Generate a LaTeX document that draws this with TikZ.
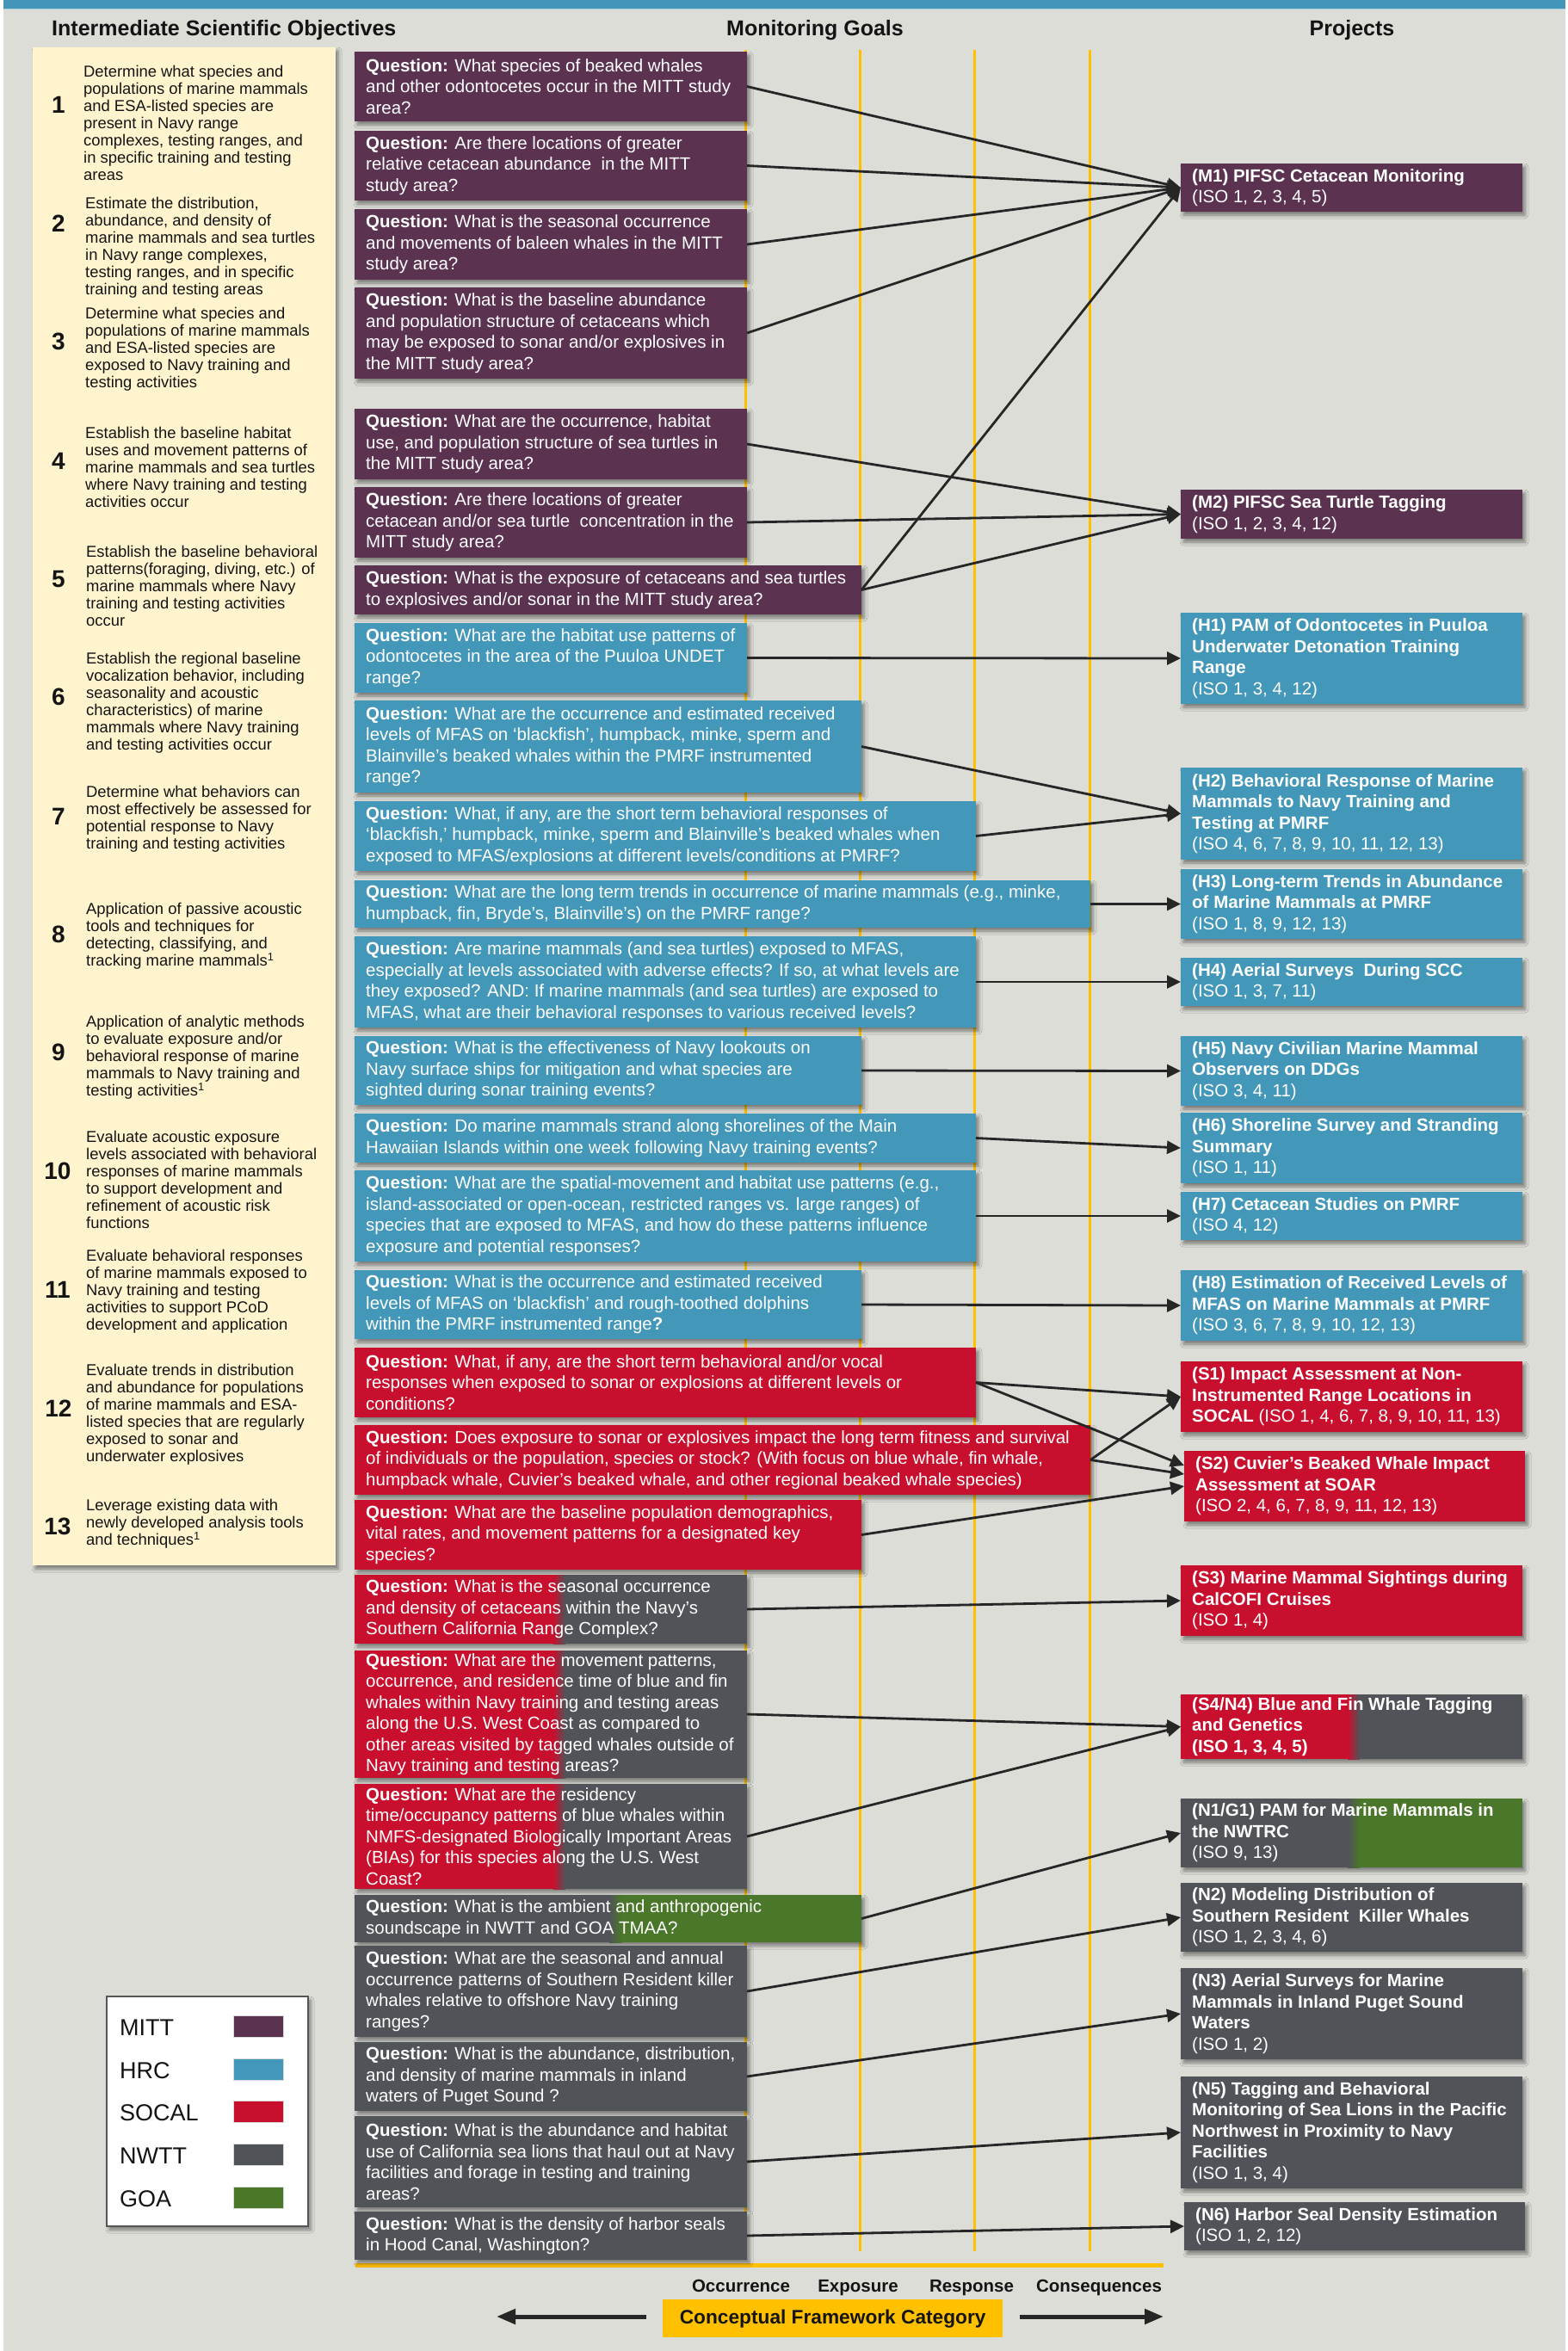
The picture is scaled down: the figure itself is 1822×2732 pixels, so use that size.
\documentclass[tikz,border=0pt]{standalone}
\usepackage{fontspec}
\setmainfont{Liberation Sans}
\usetikzlibrary{arrows.meta,shadows.blur}
\definecolor{bg}{RGB}{220,221,215}
\definecolor{topbar}{RGB}{67,150,184}
\definecolor{mitt}{RGB}{91,51,81}
\definecolor{hrc}{RGB}{67,151,184}
\definecolor{socal}{RGB}{200,16,46}
\definecolor{nwtt}{RGB}{80,84,88}
\definecolor{goa}{RGB}{74,119,41}
\definecolor{cream}{RGB}{255,244,206}
\definecolor{gold}{RGB}{255,192,0}
\definecolor{arrowc}{RGB}{38,38,38}
\definecolor{inkc}{RGB}{20,20,20}
\definecolor{legbd}{RGB}{85,85,85}
\newcommand{\qbx}[7]{%
  \node[boxbase,#2,minimum width={#5-#3},minimum height={#6-#4},anchor=north west] (#1) at (#3,#4) {};
  \node[boxtext,anchor=west] (#1t) at ([xshift=13pt]#1.west) {#7};}
\begin{document}
\begin{tikzpicture}[x=1pt,y=-1pt,
  shadowed/.style={blur shadow={shadow xshift=3pt,shadow yshift=-4pt,shadow blur radius=4pt,shadow opacity=45}},
  boxbase/.style={rectangle,draw=none,inner sep=0pt,outer sep=0pt,shadowed},
  boxtext/.style={inner sep=0pt,text=white,align=left,font=\fontsize{20.5}{24.5}\selectfont},
  isotext/.style={inner sep=0pt,text=inkc,align=left,font=\fontsize{18.4}{20}\selectfont},
  isonum/.style={inner sep=0pt,text=inkc,font=\fontsize{28}{30}\selectfont\bfseries},
  header/.style={inner sep=0pt,text=inkc,font=\fontsize{25}{28}\selectfont\bfseries},
  axislabel/.style={inner sep=0pt,text=inkc,font=\fontsize{20.5}{24}\selectfont\bfseries},
  legtext/.style={inner sep=0pt,text=inkc,font=\fontsize{27}{30}\selectfont},
  swatch/.style={rectangle,inner sep=0pt,minimum width=58,minimum height=25,draw=white!70!gray,line width=0.8pt},
  conn/.style={draw=arrowc,line width=2.8pt,-{Triangle[length=16pt,width=15pt]}},
  bigarrow/.style={draw=arrowc,line width=5pt,-{Triangle[length=22pt,width=17pt]}},
  split/.style n args={3}{fill=#3,path picture={
    \fill[#2] (path picture bounding box.north west) rectangle ([xshift=#1]path picture bounding box.south west);
    \shade[left color=#2,right color=#3] ([xshift=#1]path picture bounding box.north west) rectangle ([xshift=#1+14pt]path picture bounding box.south west);}}
]
\useasboundingbox (0,0) rectangle (1822,2732);
% background
\fill[white] (0,0) rectangle (1822,2732);
\fill[bg] (4,0) rectangle (1819,2732);
\fill[topbar] (4,0) rectangle (1819,10);
\fill[topbar!45!white] (4,10) rectangle (1819,11.5);
% framework lines
\foreach \xx in {866,999,1132,1266} \draw[gold,line width=3pt] (\xx,58) -- (\xx,2616);
\draw[gold,line width=5pt] (413,2632) -- (1352,2632);

% headers
\node[header,anchor=base west] (h-iso) at (60,42) {Intermediate Scientific Objectives};
\node[header,anchor=base] (h-goals) at (947,42) {Monitoring Goals};
\node[header,anchor=base] (h-proj) at (1571,42) {Projects};

% ISO box
\node[boxbase,fill=cream,minimum width=352,minimum height=1764,anchor=north west] (isobox) at (38,55) {};
\node[isonum] (n1) at (68,122) {1};
\node[isotext,anchor=west] (iso1) at (97,143) {Determine what species and\\populations of marine mammals\\and ESA-listed species are\\present in Navy range\\complexes, testing ranges, and\\in specific training and testing\\areas};
\node[isonum] (n2) at (68,260) {2};
\node[isotext,anchor=west] (iso2) at (99,287.5) {Estimate the distribution,\\abundance, and density of\\marine mammals and sea turtles\\in Navy range complexes,\\testing ranges, and in specific\\training and testing areas};
\node[isonum] (n3) at (68,397) {3};
\node[isotext,anchor=west] (iso3) at (99,406) {Determine what species and\\populations of marine mammals\\and ESA-listed species are\\exposed to Navy training and\\testing activities};
\node[isonum] (n4) at (68,536) {4};
\node[isotext,anchor=west] (iso4) at (99,543) {Establish the baseline habitat\\uses and movement patterns of\\marine mammals and sea turtles\\where Navy training and testing\\activities occur};
\node[isonum] (n5) at (68,673) {5};
\node[isotext,anchor=west] (iso5) at (100,681) {Establish the baseline behavioral\\patterns(foraging, diving, etc.) of\\marine mammals where Navy\\training and testing activities\\occur};
\node[isonum] (n6) at (68,810) {6};
\node[isotext,anchor=west] (iso6) at (100,817) {Establish the regional baseline\\vocalization behavior, including\\seasonality and acoustic\\characteristics) of marine\\mammals where Navy training\\and testing activities occur};
\node[isonum] (n7) at (68,949) {7};
\node[isotext,anchor=west] (iso7) at (100,951.5) {Determine what behaviors can\\most effectively be assessed for\\potential response to Navy\\training and testing activities};
\node[isonum] (n8) at (68,1086) {8};
\node[isotext,anchor=west] (iso8) at (100,1088) {Application of passive acoustic\\tools and techniques for\\detecting, classifying, and\\tracking marine mammals\textsuperscript{1}};
\node[isonum] (n9) at (68,1223) {9};
\node[isotext,anchor=west] (iso9) at (100,1228.5) {Application of analytic methods\\to evaluate exposure and/or\\behavioral response of marine\\mammals to Navy training and\\testing activities\textsuperscript{1}};
\node[isonum] (n10) at (67,1361) {10};
\node[isotext,anchor=west] (iso10) at (100,1371) {Evaluate acoustic exposure\\levels associated with behavioral\\responses of marine mammals\\to support development and\\refinement of acoustic risk\\functions};
\node[isonum] (n11) at (67,1499) {11};
\node[isotext,anchor=west] (iso11) at (100,1500.5) {Evaluate behavioral responses\\of marine mammals exposed to\\Navy training and testing\\activities to support PCoD\\development and application};
\node[isonum] (n12) at (68,1637) {12};
\node[isotext,anchor=west] (iso12) at (100,1644) {Evaluate trends in distribution\\and abundance for populations\\of marine mammals and ESA-\\listed species that are regularly\\exposed to sonar and\\underwater explosives};
\node[isonum] (n13) at (67,1774) {13};
\node[isotext,anchor=west] (iso13) at (100,1771) {Leverage existing data with\\newly developed analysis tools\\and techniques\textsuperscript{1}};

% question boxes: MITT
\qbx{q1}{fill=mitt}{412}{60}{868}{141}{\textbf{Question:} What species of beaked whales\\and other odontocetes occur in the MITT study\\area?}
\qbx{q2}{fill=mitt}{412}{152}{868}{233}{\textbf{Question:} Are there locations of greater\\relative cetacean abundance\ \ in the MITT\\study area?}
\qbx{q3}{fill=mitt}{412}{243}{868}{325}{\textbf{Question:} What is the seasonal occurrence\\and movements of baleen whales in the MITT\\study area?}
\qbx{q4}{fill=mitt}{412}{334}{868}{440}{\textbf{Question:} What is the baseline abundance\\and population structure of cetaceans which\\may be exposed to sonar and/or explosives in\\the MITT study area?}
\qbx{q5}{fill=mitt}{412}{475}{868}{557}{\textbf{Question:} What are the occurrence, habitat\\use, and population structure of sea turtles in\\the MITT study area?}
\qbx{q6}{fill=mitt}{412}{566}{868}{648}{\textbf{Question:} Are there locations of greater\\cetacean and/or sea turtle\ \ concentration in the\\MITT study area?}
\qbx{q7}{fill=mitt}{412}{657}{1001}{714}{\textbf{Question:} What is the exposure of cetaceans and sea turtles\\to explosives and/or sonar in the MITT study area?}
% HRC
\qbx{q8}{fill=hrc}{412}{724}{868}{805}{\textbf{Question:} What are the habitat use patterns of\\odontocetes in the area of the Puuloa UNDET\\range?}
\qbx{q9}{fill=hrc}{412}{814}{1001}{921}{\textbf{Question:} What are the occurrence and estimated received\\levels of MFAS on ‘blackfish’, humpback, minke, sperm and\\Blainville’s beaked whales within the PMRF instrumented\\range?}
\qbx{q10}{fill=hrc}{412}{931}{1134}{1012}{\textbf{Question:} What, if any, are the short term behavioral responses of\\‘blackfish,’ humpback, minke, sperm and Blainville’s beaked whales when\\exposed to MFAS/explosions at different levels/conditions at PMRF?}
\qbx{q11}{fill=hrc}{412}{1023}{1267}{1078}{\textbf{Question:} What are the long term trends in occurrence of marine mammals (e.g., minke,\\humpback, fin, Bryde’s, Blainville’s) on the PMRF range?}
\qbx{q12}{fill=hrc}{412}{1088}{1134}{1194}{\textbf{Question:} Are marine mammals (and sea turtles) exposed to MFAS,\\especially at levels associated with adverse effects? If so, at what levels are\\they exposed? AND: If marine mammals (and sea turtles) are exposed to\\MFAS, what are their behavioral responses to various received levels?}
\qbx{q13}{fill=hrc}{412}{1204}{1001}{1284}{\textbf{Question:} What is the effectiveness of Navy lookouts on\\Navy surface ships for mitigation and what species are\\sighted during sonar training events?}
\qbx{q14}{fill=hrc}{412}{1294}{1134}{1351}{\textbf{Question:} Do marine mammals strand along shorelines of the Main\\Hawaiian Islands within one week following Navy training events?}
\qbx{q15}{fill=hrc}{412}{1360}{1134}{1466}{\textbf{Question:} What are the spatial-movement and habitat use patterns (e.g.,\\island-associated or open-ocean, restricted ranges vs. large ranges) of\\species that are exposed to MFAS, and how do these patterns influence\\exposure and potential responses?}
\qbx{q16}{fill=hrc}{412}{1476}{1001}{1556}{\textbf{Question:} What is the occurrence and estimated received\\levels of MFAS on ‘blackfish’ and rough-toothed dolphins\\within the PMRF instrumented range\textbf{?}}
% SOCAL
\qbx{q17}{fill=socal}{412}{1566}{1134}{1647}{\textbf{Question:} What, if any, are the short term behavioral and/or vocal\\responses when exposed to sonar or explosions at different levels or\\conditions?}
\qbx{q18}{fill=socal}{412}{1656}{1267}{1737}{\textbf{Question:} Does exposure to sonar or explosives impact the long term fitness and survival\\of individuals or the population, species or stock? (With focus on blue whale, fin whale,\\humpback whale, Cuvier’s beaked whale, and other regional beaked whale species)}
\qbx{q19}{fill=socal}{412}{1743}{1001}{1824}{\textbf{Question:} What are the baseline population demographics,\\vital rates, and movement patterns for a designated key\\species?}
\qbx{q20}{split={231pt}{socal}{nwtt}}{412}{1830}{868}{1910}{\textbf{Question:} What is the seasonal occurrence\\and density of cetaceans within the Navy’s\\Southern California Range Complex?}
\qbx{q21}{split={231pt}{socal}{nwtt}}{412}{1918}{868}{2066}{\textbf{Question:} What are the movement patterns,\\occurrence, and residence time of blue and fin\\whales within Navy training and testing areas\\along the U.S. West Coast as compared to\\other areas visited by tagged whales outside of\\Navy training and testing areas?}
\qbx{q22}{split={231pt}{socal}{nwtt}}{412}{2073}{868}{2195}{\textbf{Question:} What are the residency\\time/occupancy patterns of blue whales within\\NMFS-designated Biologically Important Areas\\(BIAs) for this species along the U.S. West\\Coast?}
% NWTT / GOA
\qbx{q23}{split={296pt}{nwtt}{goa}}{412}{2202}{1001}{2257}{\textbf{Question:} What is the ambient and anthropogenic\\soundscape in NWTT and GOA TMAA?}
\qbx{q24}{fill=nwtt}{412}{2261}{868}{2367}{\textbf{Question:} What are the seasonal and annual\\occurrence patterns of Southern Resident killer\\whales relative to offshore Navy training\\ranges?}
\qbx{q25}{fill=nwtt}{412}{2373}{868}{2453}{\textbf{Question:} What is the abundance, distribution,\\and density of marine mammals in inland\\waters of Puget Sound ?}
\qbx{q26}{fill=nwtt}{412}{2459}{868}{2565}{\textbf{Question:} What is the abundance and habitat\\use of California sea lions that haul out at Navy\\facilities and forage in testing and training\\areas?}
\qbx{q27}{fill=nwtt}{412}{2570}{868}{2626}{\textbf{Question:} What is the density of harbor seals\\in Hood Canal, Washington?}

% project boxes
\qbx{m1}{fill=mitt}{1372}{190}{1769}{246}{\textbf{(M1) PIFSC Cetacean Monitoring}\\(ISO 1, 2, 3, 4, 5)}
\qbx{m2}{fill=mitt}{1372}{569}{1769}{626}{\textbf{(M2) PIFSC Sea Turtle Tagging}\\(ISO 1, 2, 3, 4, 12)}
\qbx{h1}{fill=hrc}{1372}{712}{1769}{818}{\textbf{(H1) PAM of Odontocetes in Puuloa}\\\textbf{Underwater Detonation Training}\\\textbf{Range}\\(ISO 1, 3, 4, 12)}
\qbx{h2}{fill=hrc}{1372}{892}{1769}{999}{\textbf{(H2) Behavioral Response of Marine}\\\textbf{Mammals to Navy Training and}\\\textbf{Testing at PMRF}\\(ISO 4, 6, 7, 8, 9, 10, 11, 12, 13)}
\qbx{h3}{fill=hrc}{1372}{1010}{1769}{1091}{\textbf{(H3) Long-term Trends in Abundance}\\\textbf{of Marine Mammals at PMRF}\\(ISO 1, 8, 9, 12, 13)}
\qbx{h4}{fill=hrc}{1372}{1113}{1769}{1169}{\textbf{(H4) Aerial Surveys\ \ During SCC}\\(ISO 1, 3, 7, 11)}
\qbx{h5}{fill=hrc}{1372}{1204}{1769}{1285}{\textbf{(H5) Navy Civilian Marine Mammal}\\\textbf{Observers on DDGs}\\(ISO 3, 4, 11)}
\qbx{h6}{fill=hrc}{1372}{1293}{1769}{1375}{\textbf{(H6) Shoreline Survey and Stranding}\\\textbf{Summary}\\(ISO 1, 11)}
\qbx{h7}{fill=hrc}{1372}{1385}{1769}{1441}{\textbf{(H7) Cetacean Studies on PMRF}\\(ISO 4, 12)}
\qbx{h8}{fill=hrc}{1372}{1476}{1769}{1558}{\textbf{(H8) Estimation of Received Levels of}\\\textbf{MFAS on Marine Mammals at PMRF}\\(ISO 3, 6, 7, 8, 9, 10, 12, 13)}
\qbx{s1}{fill=socal}{1372}{1582}{1769}{1664}{\textbf{(S1) Impact Assessment at Non-}\\\textbf{Instrumented Range Locations in}\\\textbf{SOCAL} (ISO 1, 4, 6, 7, 8, 9, 10, 11, 13)}
\qbx{s2}{fill=socal}{1376}{1686}{1772}{1768}{\textbf{(S2) Cuvier’s Beaked Whale Impact}\\\textbf{Assessment at SOAR}\\(ISO 2, 4, 6, 7, 8, 9, 11, 12, 13)}
\qbx{s3}{fill=socal}{1372}{1819}{1769}{1901}{\textbf{(S3) Marine Mammal Sightings during}\\\textbf{CalCOFI Cruises}\\(ISO 1, 4)}
\qbx{s4}{split={194pt}{socal}{nwtt}}{1372}{1969}{1769}{2044}{\textbf{(S4/N4) Blue and Fin Whale Tagging}\\\textbf{and Genetics}\\\textbf{(ISO 1, 3, 4, 5)}}
\qbx{n1}{split={194pt}{nwtt}{goa}}{1372}{2090}{1769}{2170}{\textbf{(N1/G1) PAM for Marine Mammals in}\\\textbf{the NWTRC}\\(ISO 9, 13)}
\qbx{n2}{fill=nwtt}{1372}{2188}{1769}{2268}{\textbf{(N2) Modeling Distribution of}\\\textbf{Southern Resident\ \ Killer Whales}\\(ISO 1, 2, 3, 4, 6)}
\qbx{n3}{fill=nwtt}{1372}{2287}{1769}{2393}{\textbf{(N3) Aerial Surveys for Marine}\\\textbf{Mammals in Inland Puget Sound}\\\textbf{Waters}\\(ISO 1, 2)}
\qbx{n5}{fill=nwtt}{1372}{2413}{1769}{2543}{\textbf{(N5) Tagging and Behavioral}\\\textbf{Monitoring of Sea Lions in the Pacific}\\\textbf{Northwest in Proximity to Navy}\\\textbf{Facilities}\\(ISO 1, 3, 4)}
\qbx{n6}{fill=nwtt}{1376}{2559}{1772}{2615}{\textbf{(N6) Harbor Seal Density Estimation}\\(ISO 1, 2, 12)}

% legend
\node[rectangle,draw=legbd,line width=2pt,fill=white,inner sep=0pt,minimum width=234,minimum height=267,anchor=north west,shadowed] (legend) at (123,2319) {};
\node[legtext,anchor=west] (lg1) at (139,2356) {MITT};
\node[swatch,fill=mitt] (sw1) at (300,2355) {};
\node[legtext,anchor=west] (lg2) at (139,2406) {HRC};
\node[swatch,fill=hrc] (sw2) at (300,2405) {};
\node[legtext,anchor=west] (lg3) at (139,2455) {SOCAL};
\node[swatch,fill=socal] (sw3) at (300,2454) {};
\node[legtext,anchor=west] (lg4) at (139,2505) {NWTT};
\node[swatch,fill=nwtt] (sw4) at (300,2504) {};
\node[legtext,anchor=west] (lg5) at (139,2555) {GOA};
\node[swatch,fill=goa] (sw5) at (300,2554) {};

% connectors
\draw[conn] (q1.east) -- (m1.west);
\draw[conn] (q2.east) -- (m1.west);
\draw[conn] (q3.east) -- (m1.west);
\draw[conn] (q4.east) -- (m1.west);
\draw[conn] (q7.east) -- (m1.west);
\draw[conn] (q5.east) -- (m2.west);
\draw[conn] (q6.east) -- (m2.west);
\draw[conn] (q7.east) -- (m2.west);
\draw[conn] (q8.east) -- (h1.west);
\draw[conn] (q9.east) -- (h2.west);
\draw[conn] (q10.east) -- (h2.west);
\draw[conn] (q11.east) -- (h3.west);
\draw[conn] (q12.east) -- (h4.west);
\draw[conn] (q13.east) -- (h5.west);
\draw[conn] (q14.east) -- (h6.west);
\draw[conn] (q15.east) -- (h7.west);
\draw[conn] (q16.east) -- (h8.west);
\draw[conn] (q17.east) -- (s1.west);
\draw[conn] (q18.east) -- (s1.west);
\draw[conn] (q17.east) -- ([yshift=24pt]s2.west);
\draw[conn] (q18.east) -- ([yshift=14pt]s2.west);
\draw[conn] (q19.east) -- (s2.west);
\draw[conn] (q20.east) -- (s3.west);
\draw[conn] (q21.east) -- (s4.west);
\draw[conn] (q22.east) -- (s4.west);
\draw[conn] (q23.east) -- (n1.west);
\draw[conn] (q24.east) -- (n2.west);
\draw[conn] (q25.east) -- (n3.west);
\draw[conn] (q26.east) -- (n5.west);
\draw[conn] (q27.east) -- (n6.west);

% framework axis
\node[axislabel,anchor=base] (occ) at (861,2663) {Occurrence};
\node[axislabel,anchor=base] (exp) at (997,2663) {Exposure};
\node[axislabel,anchor=base] (resp) at (1129,2663) {Response};
\node[axislabel,anchor=base] (cons) at (1277,2663) {Consequences};
\node[rectangle,fill=gold,inner sep=0pt,minimum width=395,minimum height=44,anchor=north west,text=inkc,font=\fontsize{22.7}{26}\selectfont\bfseries] (cfc) at (770,2672) {Conceptual Framework Category};
\coordinate (la1) at (751,2692);
\coordinate (la2) at (577,2692);
\coordinate (ra1) at (1185,2692);
\coordinate (ra2) at (1352,2692);
\draw[bigarrow] (la1) -- (la2);
\draw[bigarrow] (ra1) -- (ra2);
\end{tikzpicture}
\end{document}
